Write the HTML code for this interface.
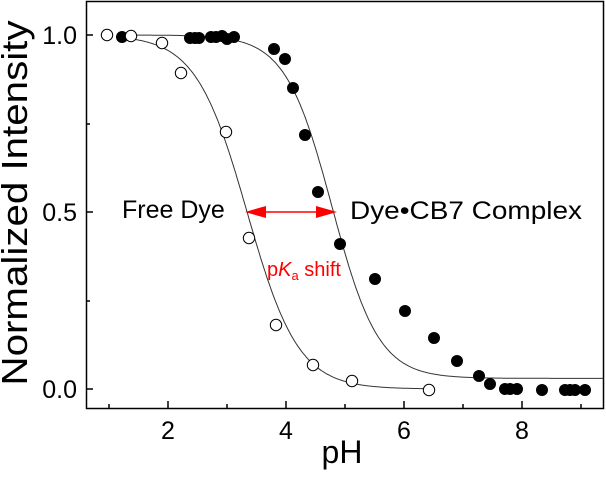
<!DOCTYPE html>
<html><head><meta charset="utf-8"><style>
html,body{margin:0;padding:0;background:#fff;}
svg text{font-family:"Liberation Sans",Arial,sans-serif;}
</style></head><body>
<svg id="s" width="606" height="472" xmlns="http://www.w3.org/2000/svg">
<rect x="86.5" y="1.5" width="517" height="407" fill="none" stroke="#000" stroke-width="1.5"/>
<g stroke="#000" stroke-width="1.5">
<line x1="168" y1="408" x2="168" y2="401"/><line x1="286" y1="408" x2="286" y2="401"/><line x1="404" y1="408" x2="404" y2="401"/><line x1="522" y1="408" x2="522" y2="401"/>
<line x1="109" y1="408" x2="109" y2="404"/><line x1="227" y1="408" x2="227" y2="404"/><line x1="345" y1="408" x2="345" y2="404"/><line x1="463" y1="408" x2="463" y2="404"/><line x1="581" y1="408" x2="581" y2="404"/>
<line x1="86" y1="35" x2="93" y2="35"/><line x1="86" y1="212" x2="93" y2="212"/><line x1="86" y1="389" x2="93" y2="389"/>
<line x1="86" y1="124" x2="90" y2="124"/><line x1="86" y1="301" x2="90" y2="301"/>
</g>
<g font-size="25" fill="#000" text-anchor="middle">
<text x="168" y="439">2</text><text x="286" y="439">4</text><text x="404" y="439">6</text><text x="522" y="439">8</text>
</g>
<g font-size="25" fill="#000" text-anchor="end">
<text x="77" y="44">1.0</text><text x="77" y="221">0.5</text><text x="77" y="398">0.0</text>
</g>
<text x="342" y="463" font-size="32" text-anchor="middle">pH</text>
<text transform="translate(27,203) rotate(-90)" font-size="36" text-anchor="middle" textLength="365" lengthAdjust="spacingAndGlyphs">Normalized Intensity</text>
<path id="c1" fill="none" stroke="#333" stroke-width="1"/>
<path id="c2" fill="none" stroke="#333" stroke-width="1"/>
<g id="pts"></g>
<text x="122" y="218" font-size="25">Free Dye</text>
<text x="350" y="219" font-size="25" textLength="232" lengthAdjust="spacingAndGlyphs">Dye•CB7 Complex</text>
<line x1="260" y1="212" x2="322" y2="212" stroke="#f00" stroke-width="1.5"/>
<polygon points="245,212 266,206 266,218" fill="#f00"/>
<polygon points="337,212 316,206 316,218" fill="#f00"/>
<text x="267" y="276" font-size="20" fill="#f00">p<tspan font-style="italic">K</tspan><tspan font-size="13" dy="4">a</tspan><tspan dy="-4"> shift</tspan></text>
</svg>
<script>
function X(p){return 50+59*p;}
function Y(v){return 389-354*v;}
function curve(p,n,B,a,b){var d="";for(var x=a;x<=b;x+=0.02){var v=B+(1-B)/(1+Math.pow(10,n*(x-p)));d+=(d?"L":"M")+X(x).toFixed(1)+","+Y(v).toFixed(1);}return d;}
document.getElementById("c1").setAttribute("d",curve(3.34,1.0,0.0,1.35,6.4));
document.getElementById("c2").setAttribute("d",curve(4.78,1.1,0.03,1.3,9.38));
var open=[[107,35],[131,36],[162,43],[181,73],[226,132],[249,238],[276,325],[313,365],[352,381],[429,390]];
var fill=[[122,37],[190,38],[195,38],[199,38],[211,37],[216,37],[222,36],[227,39],[234,37],[274,49],[285,59],[293,88],[305,135],[318,192],[340,244],[375,279],[405,311],[434,338],[457,361],[479,376],[490,384],[505,389],[510,389],[517,389],[542,390],[565,390],[570,390],[575,390],[585,390]];
var g=document.getElementById("pts"),h="";
fill.forEach(function(p){h+='<circle cx="'+p[0]+'" cy="'+p[1]+'" r="6" fill="#000"/>';});
open.forEach(function(p){h+='<circle cx="'+p[0]+'" cy="'+p[1]+'" r="5.7" fill="#fff" stroke="#000" stroke-width="1"/>';});
g.innerHTML=h;
</script>
</body></html>
